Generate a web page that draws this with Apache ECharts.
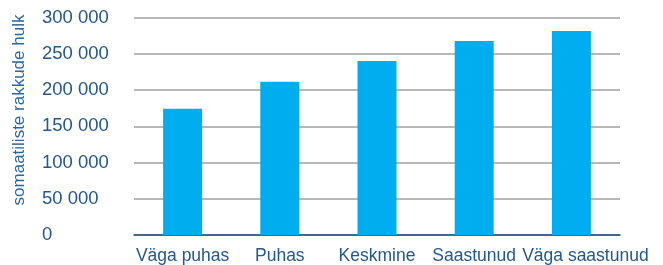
<!DOCTYPE html>
<meta charset="utf-8">
<style>
html, body { margin: 0; padding: 0; background: #fff; }
#main { width: 663px; height: 265px; }
</style>
<div id="main"></div>
<script src="https://cdn.jsdelivr.net/npm/echarts@6/dist/echarts.min.js"></script>
<script>

var categories = ['Väga puhas', 'Puhas', 'Keskmine', 'Saastunud', 'Väga saastunud'];
var cellCounts = [174000, 211500, 240000, 267500, 281500];
var axisTitle = 'somaatiliste rakkude hulk';

var labelColor = '#25588a';
var fontFamily = '"Liberation Sans", Arial, sans-serif';

// last label sits a bit to the right of its bar, like in the original
var categoryData = categories.map(function (name, i) {
    if (i === categories.length - 1) {
        return { value: name, textStyle: { padding: [0, 0, 0, 28] } };
    }
    return name;
});

var chart = echarts.init(document.getElementById('main'));

chart.setOption({
    animation: false,
    grid: {
        left: 134,
        right: 43,
        top: 17.5,
        bottom: 29
    },
    xAxis: {
        type: 'category',
        data: categoryData,
        axisTick: { show: false },
        axisLine: { lineStyle: { color: '#1f4e79', width: 1.5 } },
        axisLabel: {
            color: labelColor,
            fontSize: 17.5,
            fontFamily: fontFamily,
            margin: 12,
            interval: 0
        }
    },
    yAxis: {
        type: 'value',
        min: 0,
        max: 300000,
        interval: 50000,
        axisLine: { show: false },
        axisTick: { show: false },
        splitLine: { lineStyle: { color: '#a0a0a0', width: 1.5 } },
        axisLabel: {
            color: labelColor,
            fontSize: 18.5,
            fontFamily: fontFamily,
            align: 'left',
            margin: 92,
            formatter: function (v) {
                return String(v).replace(/\B(?=(\d{3})+(?!\d))/g, ' ');
            }
        }
    },
    graphic: [{
        type: 'text',
        x: 19,
        y: 110,
        rotation: Math.PI / 2,
        style: {
            text: axisTitle,
            fill: '#2b66a0',
            font: '17px ' + fontFamily,
            textAlign: 'center',
            textVerticalAlign: 'middle'
        }
    }],
    series: [{
        type: 'bar',
        data: cellCounts,
        barWidth: 39,
        itemStyle: { color: '#00adee' }
    }]
});

</script>
